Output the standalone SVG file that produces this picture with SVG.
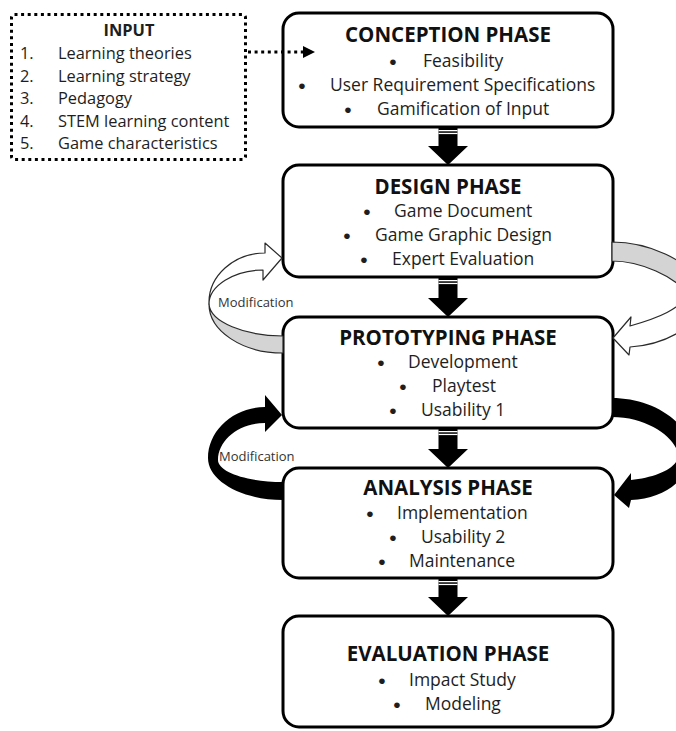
<svg xmlns="http://www.w3.org/2000/svg" width="676" height="731" viewBox="0 0 676 731">
<style>
.box{fill:#fff;stroke:#000;stroke-width:3}
.title{font-family:"Open Sans","Liberation Sans",sans-serif;font-weight:bold;font-size:20.5px;fill:#111;text-anchor:middle}
.item{font-family:"Open Sans","Liberation Sans",sans-serif;font-size:17.5px;fill:#1e1e1e}
.bul{font-family:"Liberation Sans",Arial,sans-serif;font-size:21px;fill:#1e1e1e;text-anchor:middle}
.inp{font-family:"Open Sans","Liberation Sans",sans-serif;font-size:16.4px;fill:#1e1e1e}
.mod{font-family:"Open Sans","Liberation Sans",sans-serif;font-size:13px;fill:#333}
.down{fill:#000}
.gap{fill:#fff}
.grey{fill:#d4d4d4;stroke:#2a2a2a;stroke-width:1.2;stroke-linejoin:round}
.white{fill:#fff;stroke:#2a2a2a;stroke-width:1.2;stroke-linejoin:round}
.black{fill:#000}
</style>

<g id="input">
<rect x="11.5" y="14.5" width="234" height="145" rx="3" fill="#fff" stroke="#000" stroke-width="3" stroke-dasharray="3 3.6"/>
<text x="129" y="36" class="inp" style="font-weight:bold;text-anchor:middle">INPUT</text>
<text x="20" y="59" class="inp">1.</text><text x="58" y="59" class="inp">Learning theories</text>
<text x="20" y="81.5" class="inp">2.</text><text x="58" y="81.5" class="inp">Learning strategy</text>
<text x="20" y="104" class="inp">3.</text><text x="58" y="104" class="inp">Pedagogy</text>
<text x="20" y="126.5" class="inp">4.</text><text x="58" y="126.5" class="inp">STEM learning content</text>
<text x="20" y="148.5" class="inp">5.</text><text x="58" y="148.5" class="inp">Game characteristics</text>
</g>

<g id="conception">
<rect class="box" x="283" y="13" width="330" height="114" rx="16"/>
<text class="title" x="448" y="41.5">CONCEPTION PHASE</text>
<text class="bul" x="393" y="69">•</text><text class="item" x="423" y="67">Feasibility</text>
<text class="bul" x="302" y="93">•</text><text class="item" x="330" y="91">User Requirement Specifications</text>
<text class="bul" x="348" y="117">•</text><text class="item" x="377" y="115">Gamification of Input</text>
</g>

<g id="design">
<rect class="box" x="283" y="165" width="330" height="112" rx="16"/>
<text class="title" x="448" y="193.5">DESIGN PHASE</text>
<text class="bul" x="367" y="219">•</text><text class="item" x="394" y="217">Game Document</text>
<text class="bul" x="347" y="243">•</text><text class="item" x="375" y="241">Game Graphic Design</text>
<text class="bul" x="364" y="267">•</text><text class="item" x="392" y="265">Expert Evaluation</text>
</g>

<g id="prototyping">
<rect class="box" x="283" y="317" width="330" height="111" rx="16"/>
<text class="title" x="448" y="345">PROTOTYPING PHASE</text>
<text class="bul" x="381" y="370">•</text><text class="item" x="408" y="368">Development</text>
<text class="bul" x="403" y="394">•</text><text class="item" x="432" y="392">Playtest</text>
<text class="bul" x="393" y="418">•</text><text class="item" x="421" y="416">Usability 1</text>
</g>

<g id="analysis">
<rect class="box" x="283" y="468" width="330" height="110" rx="16"/>
<text class="title" x="448" y="495">ANALYSIS PHASE</text>
<text class="bul" x="370" y="521">•</text><text class="item" x="397" y="519">Implementation</text>
<text class="bul" x="393" y="545">•</text><text class="item" x="421" y="543">Usability 2</text>
<text class="bul" x="382" y="569">•</text><text class="item" x="409" y="567">Maintenance</text>
</g>

<g id="evaluation">
<rect class="box" x="283" y="616" width="330" height="111" rx="16"/>
<text class="title" x="448" y="661">EVALUATION PHASE</text>
<text class="bul" x="382" y="688">•</text><text class="item" x="409" y="686">Impact Study</text>
<text class="bul" x="397" y="712">•</text><text class="item" x="425" y="710">Modeling</text>
</g>

<g id="connectors">
<line x1="248" y1="52" x2="305" y2="52" stroke="#000" stroke-width="3" stroke-dasharray="3 3.6"/>
<path d="M303,46 L315,52 L303,58 Z" fill="#000"/>

<g id="down1">
<path class="down" d="M438.5,127 H457.5 V146 H468 L448,165 L428,146 H438.5 Z"/>
<rect class="gap" x="438.5" y="130" width="19" height="1.3"/><rect class="gap" x="438.5" y="132.8" width="19" height="1.3"/>
</g>
<g id="down2">
<path class="down" d="M438.5,277 H457.5 V298 H468 L448,317 L428,298 H438.5 Z"/>
<rect class="gap" x="438.5" y="280" width="19" height="1.3"/><rect class="gap" x="438.5" y="282.8" width="19" height="1.3"/>
</g>
<g id="down3">
<path class="down" d="M438.5,428 H457.5 V449 H468 L448,468 L428,449 H438.5 Z"/>
<rect class="gap" x="438.5" y="431" width="19" height="1.3"/><rect class="gap" x="438.5" y="433.8" width="19" height="1.3"/>
</g>
<g id="down4">
<path class="down" d="M438.5,578 H457.5 V597 H468 L448,616 L428,597 H438.5 Z"/>
<rect class="gap" x="438.5" y="581" width="19" height="1.3"/><rect class="gap" x="438.5" y="583.8" width="19" height="1.3"/>
</g>

<g id="loop1-left">
<path class="grey" d="M209,304 C209,331 242,353 283,353 L283,336 C245,336 210,322 209,304 Z"/>
<path class="white" d="M265,243 L282,258 L263,280 L263,270 C234,270 209,286 209,304 C208,276 234,253 265,253 Z"/>
</g>
<g id="loop1-right">
<path class="grey" d="M612,242 C645,242 690,258 705,290 L690,296 C675,276 640,261 612,261 Z"/>
<path class="white" d="M705,296 C700,330 660,345 630,347 L629,355 L613,338 L631,317 L630,326 C658,318 680,310 692,290 Z"/>
</g>
<path id="loop2-left" class="black" d="M265,395 L282,415 L265,432 L265,423 C239,423 218,440 218,460 C218,472 247,482 283,482 L283,500 C242,500 208,481 208,458 C208,430 234,407 265,407 Z"/>
<path id="loop2-right" class="black" d="M612,398 C650,398 690,420 690,452 C690,480 665,498 631,500 L629,508 L614,495 L631,473 L631,480 C655,478 678,468 678,456 C678,440 650,417 612,417 Z"/>

<text class="mod" x="218" y="307">Modification</text>
<text class="mod" x="219" y="461">Modification</text>
</g>
</svg>
